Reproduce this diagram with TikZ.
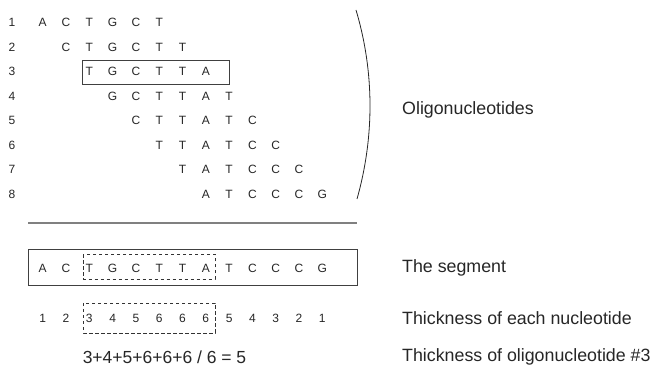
\documentclass[tikz,border=0pt]{standalone}
\usepackage{fontspec}
\setmainfont{Liberation Sans}
\begin{document}
\begin{tikzpicture}[x=1pt,y=-1pt,
  base/.style={inner sep=0pt,anchor=center,text=black!85},
  nuc/.style={base,font=\fontsize{12}{12}\selectfont},
  lab/.style={inner sep=0pt,anchor=west,text=black!85,font=\fontsize{17.8}{17.8}\selectfont},
  solidbox/.style={draw=black!75,line width=0.8pt},
  dashbox/.style={draw=black!80,line width=0.7pt,dash pattern=on 3.5pt off 2.5pt},
  rule/.style={draw=black!50,line width=1.1pt}]
\useasboundingbox (0,0) rectangle (654,371);
% oligonucleotide rows
\foreach \r/\seq in {1/{A,C,T,G,C,T},2/{C,T,G,C,T,T},3/{T,G,C,T,T,A},4/{G,C,T,T,A,T},
                     5/{C,T,T,A,T,C},6/{T,T,A,T,C,C},7/{T,A,T,C,C,C},8/{A,T,C,C,C,G}}{
  \pgfmathsetmacro{\yy}{22.5+24.5*(\r-1)}
  \node[nuc] (n\r) at (12,\yy) {\r};
  \foreach \l [count=\k from 0] in \seq {
    \pgfmathsetmacro{\xx}{42.7+23.3*(\r-1+\k)}
    \node[nuc] (r\r c\k) at (\xx,\yy) {\l};
  }
}
\draw[solidbox] (82,60.5) rectangle (229,84.5);
% bracket
\coordinate (arcTop) at (356,10);
\coordinate (arcBot) at (357,199);
\draw[draw=black!85,line width=0.8pt] (arcTop) .. controls (374.5,72) and (374.5,137) .. (arcBot);
\node[lab] (oligo) at (402,110) {Oligonucleotides};
% rule
\coordinate (ruleL) at (28,223);
\coordinate (ruleR) at (357,223);
\draw[rule] (ruleL) -- (ruleR);
% segment
\draw[solidbox] (28,249) rectangle (357,285);
\foreach \l [count=\k from 0] in {A,C,T,G,C,T,T,A,T,C,C,C,G}{
  \pgfmathsetmacro{\xx}{42.7+23.3*\k}
  \node[nuc] (s\k) at (\xx,268) {\l};
}
\draw[dashbox] (83,254.5) rectangle (215,279);
% thickness numbers
\foreach \l [count=\k from 0] in {1,2,3,4,5,6,6,6,5,4,3,2,1}{
  \pgfmathsetmacro{\xx}{42.7+23.3*\k}
  \node[nuc] (t\k) at (\xx,318) {\l};
}
\draw[dashbox] (83,303) rectangle (215,333);
% formula
\node[base,font=\fontsize{17.5}{17.5}\selectfont] (formula) at (164.5,357) {3+4+5+6+6+6 / 6 = 5};
% labels
\node[lab] (segl) at (402,268) {The segment};
\node[lab] (thkl) at (402,318) {Thickness of each nucleotide};
\node[lab] (oll) at (402,357) {Thickness of oligonucleotide \#3};
\end{tikzpicture}
\end{document}
